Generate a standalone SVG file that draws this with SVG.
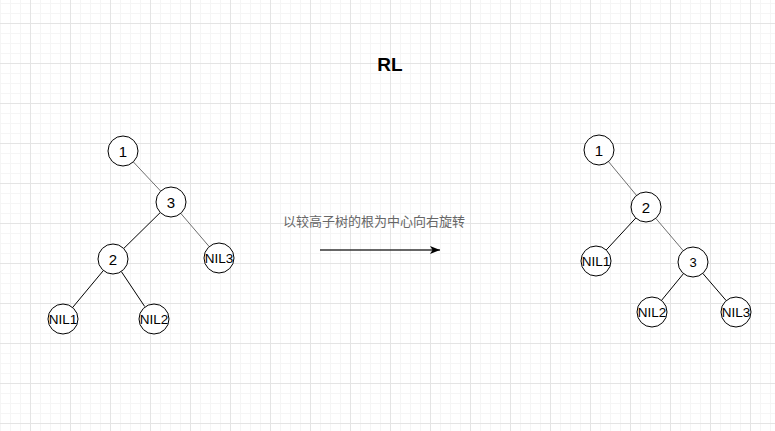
<svg xmlns="http://www.w3.org/2000/svg" width="775" height="431" viewBox="0 0 775 431">
  <defs>
    <pattern id="minor" patternUnits="userSpaceOnUse" x="0" y="3" width="10" height="10">
      <rect x="0" y="0" width="10" height="1" fill="#f5f5f5"/>
      <rect x="0" y="0" width="1" height="10" fill="#f5f5f5"/>
    </pattern>
    <pattern id="major" patternUnits="userSpaceOnUse" x="30" y="23" width="40" height="40">
      <rect x="0" y="0" width="40" height="1" fill="#e4e4e4"/>
      <rect x="0" y="0" width="1" height="40" fill="#e4e4e4"/>
    </pattern>
    <marker id="arrow" viewBox="0 0 10 8" refX="10" refY="4" markerWidth="10" markerHeight="8" markerUnits="userSpaceOnUse" orient="auto">
      <path d="M0,0 L10,4 L0,8 L2.5,4 Z" fill="#000"/>
    </marker>
    <style>
      .node circle { fill: #ffffff; stroke: #000000; stroke-width: 1; }
      .num { font-family: "Liberation Sans", Arial, sans-serif; font-size: 15px; fill: #000; text-anchor: middle; dominant-baseline: central; }
      .nil { font-family: "Liberation Sans", Arial, sans-serif; font-size: 13.5px; fill: #000; text-anchor: middle; dominant-baseline: central; }
      .edge { stroke: #000; stroke-width: 1; fill: none; }
      .edge.gray { stroke: #6e6e6e; }
      .title { font-family: "Liberation Sans", Arial, sans-serif; font-size: 19px; font-weight: bold; fill: #000; text-anchor: middle; dominant-baseline: central; }
      .caption { font-family: "Liberation Sans", "Noto Sans CJK SC", sans-serif; font-size: 13px; fill: #666666; text-anchor: middle; dominant-baseline: central; }
    </style>
  </defs>

  <rect x="0" y="0" width="775" height="431" fill="#ffffff"/>
  <rect x="0" y="0" width="775" height="431" fill="url(#minor)"/>
  <rect x="0" y="0" width="775" height="431" fill="url(#major)"/>

  <g id="connectors">
    <!-- left tree -->
    <line class="edge gray" x1="133.3" y1="161.9" x2="160.7" y2="191.1"/>
    <line class="edge" x1="160.3" y1="212.5" x2="123.7" y2="248.5"/>
    <line class="edge gray" x1="180.8" y1="213.4" x2="209.2" y2="246.6"/>
    <line class="edge" x1="103.4" y1="270.5" x2="72.6" y2="307.5"/>
    <line class="edge" x1="121.3" y1="271.5" x2="144.7" y2="306.5"/>
    <!-- right tree -->
    <line class="edge gray" x1="608.5" y1="161.6" x2="636.5" y2="195.4"/>
    <line class="edge" x1="635.8" y1="218" x2="606.2" y2="250"/>
    <line class="edge gray" x1="655.8" y1="218.4" x2="683.2" y2="250.6"/>
    <line class="edge" x1="683.5" y1="273.6" x2="661.5" y2="300.4"/>
    <line class="edge" x1="702.8" y1="273.4" x2="726.2" y2="300.6"/>
    <!-- rotation arrow -->
    <line x1="320" y1="250" x2="440" y2="250" stroke="#333" stroke-width="1.3" marker-end="url(#arrow)"/>
  </g>

  <g id="title"><text class="title" x="390" y="64">RL</text></g>
  <g id="caption"><text class="caption" x="374" y="221">以较高子树的根为中心向右旋转</text></g>

  <!-- left tree nodes -->
  <g id="L1" class="node"><circle cx="123" cy="151" r="15"/><text class="num" x="123" y="151">1</text></g>
  <g id="L3" class="node"><circle cx="171" cy="202" r="15"/><text class="num" x="171" y="202">3</text></g>
  <g id="L2" class="node"><circle cx="113" cy="259" r="15"/><text class="num" x="113" y="259">2</text></g>
  <g id="LNIL3" class="node"><circle cx="219" cy="258" r="15"/><text class="nil" x="219" y="258">NIL3</text></g>
  <g id="LNIL1" class="node"><circle cx="63" cy="319" r="15"/><text class="nil" x="63" y="319">NIL1</text></g>
  <g id="LNIL2" class="node"><circle cx="154" cy="319" r="15"/><text class="nil" x="154" y="319">NIL2</text></g>

  <!-- right tree nodes -->
  <g id="R1" class="node"><circle cx="599" cy="150" r="15"/><text class="num" x="599" y="150">1</text></g>
  <g id="R2" class="node"><circle cx="646" cy="207" r="15"/><text class="num" x="646" y="207">2</text></g>
  <g id="RNIL1" class="node"><circle cx="596" cy="261" r="15"/><text class="nil" x="596" y="261">NIL1</text></g>
  <g id="R3" class="node"><circle cx="693" cy="262" r="15"/><text class="num" x="693" y="262" style="font-size:13px">3</text></g>
  <g id="RNIL2" class="node"><circle cx="652" cy="312" r="15"/><text class="nil" x="652" y="312">NIL2</text></g>
  <g id="RNIL3" class="node"><circle cx="736" cy="312" r="15"/><text class="nil" x="736" y="312">NIL3</text></g>
</svg>
